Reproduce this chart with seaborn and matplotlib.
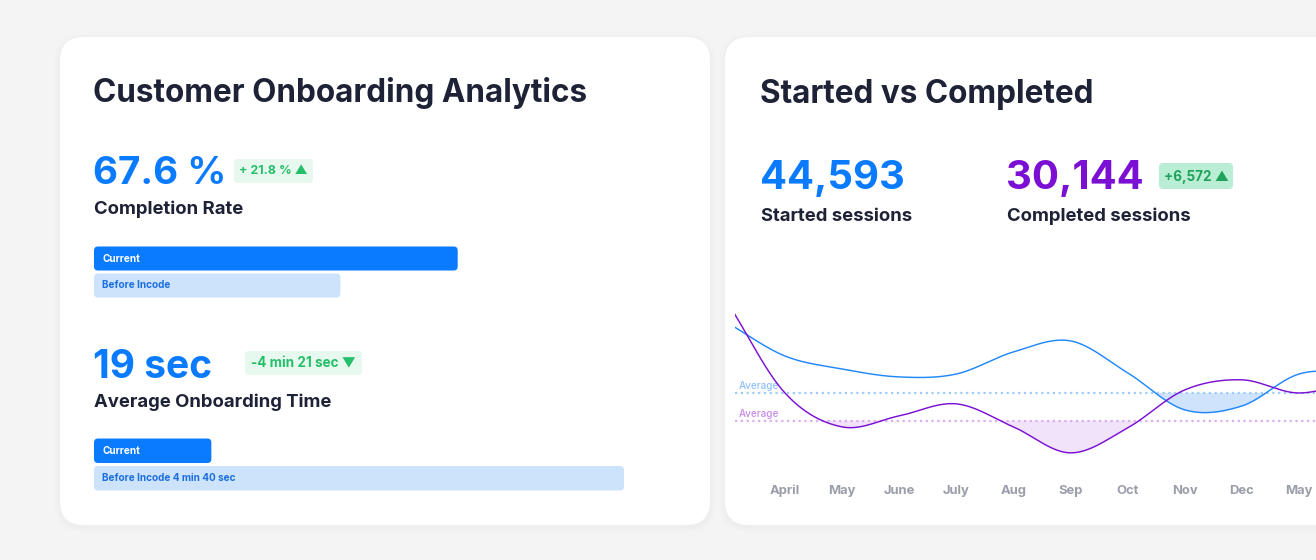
import numpy as np
import matplotlib
matplotlib.use('Agg')
import matplotlib.pyplot as plt
from matplotlib.patches import FancyBboxPatch
import seaborn as sns

W, H = 1316, 560

# ---- left card data
completion_rate = 67.6
completion_delta = 21.8
completion_labels = ['Current', 'Before Incode']
completion_values = [67.6, 45.8]

onboarding_seconds_now = 19
onboarding_delta = '-4 min 21 sec'
onboarding_labels = ['Current', 'Before Incode 4 min 40 sec']
onboarding_seconds = [19, 280]

# ---- right card data
started_total = 44593
completed_total = 30144
completed_delta = 6572

months = ['April', 'May', 'June', 'July', 'Aug', 'Sep', 'Oct', 'Nov', 'Dec', 'May']
# monthly sessions; first value is the month before April (unlabelled),
# the last one runs past the right edge of the card
started = [8050, 6350, 5680, 5270, 5420, 6560, 7130, 5480, 3570, 3770, 5420, 5530]
completed = [9090, 4440, 2690, 3260, 3880, 2690, 1350, 2640, 4600, 5120, 4440, 5110]
started_avg = 4459
completed_avg = 3014

# ---- colours
BG = '#f4f4f5'
DARK = '#1e2236'
BLUE = '#0a7bff'
LINE_BLUE = '#2188fb'
PURPLE = '#7b10d4'
BAR_LIGHT = '#cde3fc'
BAR_TEXT = '#1b6fe0'
GREEN = '#25bf6a'
GREEN_BG = '#e7f8ee'
GREEN_DARK = '#1fa25b'
GREEN_BG2 = '#b9eed4'
GREY = '#9a9ea8'

sns.set_style('white')
plt.rcParams['font.family'] = ['Inter', 'DejaVu Sans']


def px(v):
    # pixel size -> points at 100 dpi
    return v * 0.72


def px_axes(left, top, right, bottom):
    return fig.add_axes([left / W, 1 - bottom / H, (right - left) / W, (bottom - top) / H])


def smooth(y, n=40):
    # Catmull-Rom curve through the monthly values (rendering only)
    y = np.asarray(y, float)
    m = np.gradient(y)
    t = np.linspace(0, 1, n, endpoint=False)
    h00 = 2 * t**3 - 3 * t**2 + 1
    h10 = t**3 - 2 * t**2 + t
    h01 = -2 * t**3 + 3 * t**2
    h11 = t**3 - t**2
    xs, ys = [], []
    for i in range(len(y) - 1):
        xs.append(i + t)
        ys.append(h00 * y[i] + h10 * m[i] + h01 * y[i + 1] + h11 * m[i + 1])
    xs.append([len(y) - 1])
    ys.append([y[-1]])
    return np.concatenate(xs), np.concatenate(ys)


def rounded(x, y, w, h, r, color, **kw):
    bg.add_patch(FancyBboxPatch((x, y), w, h, boxstyle=f'round,pad=0,rounding_size={r}',
                                fc=color, ec='none', **kw))


def badge(x0, x1, y0, y1, text, color, fill, size):
    rounded(x0, y0, x1 - x0, y1 - y0, 4, fill)
    bg.text((x0 + x1) / 2, (y0 + y1) / 2 + 0.5, text, ha='center', va='center',
            fontsize=px(size), color=color, weight='bold')


def bar_block(left, right, top, bottom, labels, values, xmax, colors, text_colors):
    ax = px_axes(left, top, right, bottom)
    sns.barplot(x=values, y=labels, hue=labels, palette=colors, orient='h',
                width=0.89, saturation=1, legend=False, ax=ax)
    ax.set_xlim(0, xmax)
    ax.set_ylim(1.5, -0.5)
    ax.axis('off')
    # swap the square bars for rounded ones drawn on the pixel canvas
    inv = bg.transData.inverted()
    for p in list(ax.patches):
        (x0, y0), (x1, y1) = inv.transform(ax.transData.transform(
            [(p.get_x(), p.get_y()), (p.get_x() + p.get_width(), p.get_y() + p.get_height())]))
        rounded(min(x0, x1), min(y0, y1), abs(x1 - x0), abs(y1 - y0), 4, p.get_facecolor())
        p.set_visible(False)
    for i, (lbl, c) in enumerate(zip(labels, text_colors)):
        ax.annotate(lbl, xy=(0, i), xytext=(6, 0), textcoords='offset points',
                    va='center', ha='left', fontsize=px(10), color=c, weight='bold')
    return ax


fig = plt.figure(figsize=(W / 100, H / 100), dpi=100)
fig.patch.set_facecolor(BG)
bg = fig.add_axes([0, 0, 1, 1])
bg.set_xlim(0, W)
bg.set_ylim(H, 0)
bg.axis('off')

# cards with a soft shadow
for (cx, cw) in [(60, 650), (725, 640)]:
    for k in range(1, 7):
        rounded(cx - k, 37 - k + 2, cw + 2 * k, 488 + 2 * k, 24 + k, 'black', alpha=0.005)
    rounded(cx, 37, cw, 488, 24, 'white')

# ---- left card
bg.text(93, 102, 'Customer Onboarding Analytics', fontsize=px(31.5), weight='bold',
        color=DARK, va='baseline')
bg.text(93, 184, f'{completion_rate} %', fontsize=px(38.5), weight='bold',
        color=BLUE, va='baseline')
badge(234, 313, 159, 183, f'+ {completion_delta} % \u25b2', GREEN, GREEN_BG, 12.5)
bg.text(94, 214, 'Completion Rate', fontsize=px(18.5), weight='bold', color=DARK, va='baseline')

bar_block(94, 632, 245, 299, completion_labels, completion_values, 100,
          [BLUE, BAR_LIGHT], ['white', BAR_TEXT])

bg.text(93, 378, f'{onboarding_seconds_now} sec', fontsize=px(39), weight='bold',
        color=BLUE, va='baseline')
badge(245, 362, 351, 375, f'{onboarding_delta} \u25bc', GREEN, GREEN_BG, 13.5)
bg.text(94, 407, 'Average Onboarding Time', fontsize=px(18.5), weight='bold',
        color=DARK, va='baseline')

# short bars keep a minimum length so their label fits
min_bar_sec = 62
bar_block(94, 624, 437, 492, onboarding_labels,
          [max(v, min_bar_sec) for v in onboarding_seconds], max(onboarding_seconds),
          [BLUE, BAR_LIGHT], ['white', BAR_TEXT])

# ---- right card
bg.text(760, 103, 'Started vs Completed', fontsize=px(31.5), weight='bold',
        color=DARK, va='baseline')
bg.text(760, 189, f'{started_total:,}', fontsize=px(40), weight='bold',
        color=BLUE, va='baseline')
bg.text(761, 221, 'Started sessions', fontsize=px(18.5), weight='bold', color=DARK, va='baseline')
bg.text(1006, 189, f'{completed_total:,}', fontsize=px(40), weight='bold',
        color=PURPLE, va='baseline')
badge(1159, 1233, 163, 189, f'+{completed_delta:,} \u25b2', GREEN_DARK, GREEN_BG2, 13.5)
bg.text(1007, 221, 'Completed sessions', fontsize=px(18.5), weight='bold',
        color=DARK, va='baseline')

ax = px_axes(735, 290, W, 479)
ax.set_facecolor('none')
series = [(started, started_avg, LINE_BLUE, '#cfe3fc', '#9ecbfd', '#8ec0f9'),
          (completed, completed_avg, PURPLE, '#f1e3fa', '#d9aef2', '#c98ae9')]
for vals, avg, lc, fc, dc, tc in series:
    xs, ys = smooth(vals)
    ax.fill_between(xs, ys, avg, where=ys < avg, interpolate=True, color=fc, lw=0, zorder=1)
    ax.axhline(avg, color=dc, lw=1.6, ls=(0, (1, 1.6)), zorder=2)
    sns.lineplot(x=xs, y=ys, color=lc, lw=1.05, sort=False, ax=ax, zorder=3)
    ax.annotate('Average', xy=(0, avg), xycoords=('axes fraction', 'data'),
                xytext=(3, 1.5), textcoords='offset points', va='bottom', ha='left',
                fontsize=px(10), color=tc, weight='medium')

ax.set_xlim(0.1245, 10.298)
ax.set_ylim(0, 9758)
ax.set_xticks(range(1, len(months) + 1))
ax.set_xticklabels(months)
ax.set_yticks([])
ax.tick_params(axis='x', length=0, pad=px(15), labelsize=px(13), labelcolor=GREY)
for lbl in ax.get_xticklabels():
    lbl.set_fontweight('bold')
    lbl.set_verticalalignment('baseline')
sns.despine(ax=ax, left=True, bottom=True)
ax.set_xlabel('')
ax.set_ylabel('')

fig.savefig('out.png', dpi=100, facecolor=BG)
